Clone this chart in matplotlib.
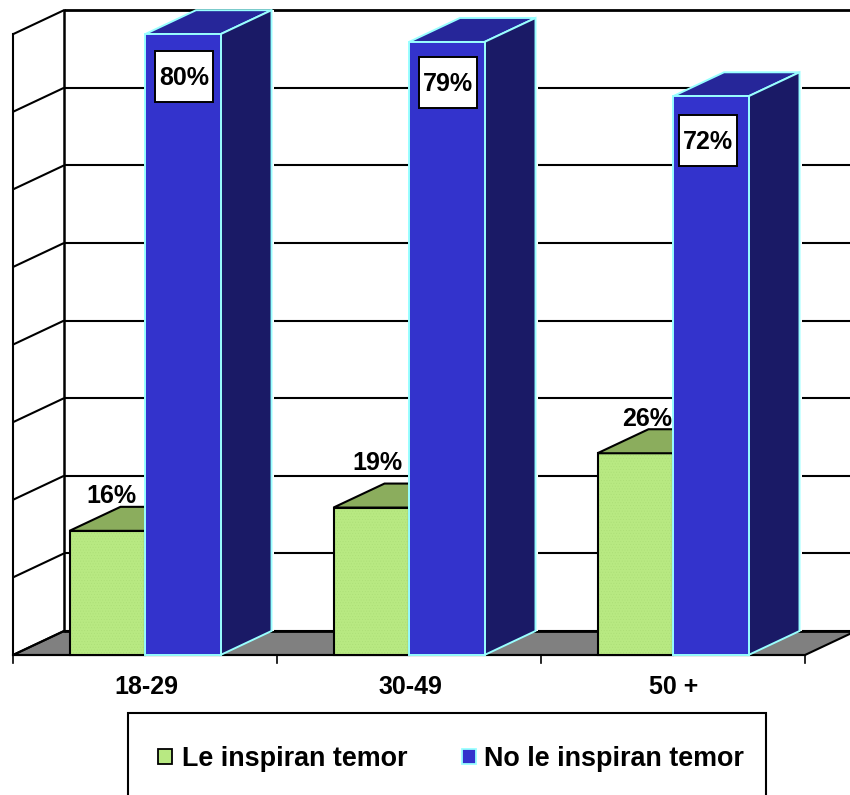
import matplotlib
matplotlib.use("Agg")
import matplotlib.pyplot as plt
from matplotlib.patches import Polygon, Rectangle

categories = ["18-29", "30-49", "50 +"]
series_names = ["Le inspiran temor", "No le inspiran temor"]
le_inspiran = [16, 19, 26]
no_le_inspiran = [80, 79, 72]
gridlines = [0, 10, 20, 30, 40, 50, 60, 70, 80]

W, H = 850, 795
X0, XS = 145.0, 264.0      # px of first category, px per category
Y0, YS = 655.0, 7.76       # px of value 0, px per value unit
DX, DY = 51 / XS, 24 / YS  # 3-D depth in data units
BW = 75.5 / XS             # bar width

# label placement, in px relative to the bar's front-top-left corner
green_lab_dx = [41.5, 44, 49.5]
green_lab_dy = [37.5, 47, 37]
blue_lab_dx = [39, 39, 35]
blue_lab_dy = [42, 40.5, 44.5]
BOX_W, BOX_H = 58, 51

plt.rcParams["font.family"] = ["Liberation Sans", "DejaVu Sans"]
plt.rcParams["font.weight"] = "bold"
plt.rcParams["hatch.linewidth"] = 0.3
fig = plt.figure(figsize=(W / 100, H / 100), dpi=100)
ax = fig.add_axes([0, 0, 1, 1])
ax.set_xlim((0 - X0) / XS, (W - X0) / XS)
ax.set_ylim((Y0 - H) / YS, (Y0 - 0) / YS)
ax.axis("off")

XL = -0.5
XR = len(categories) - 0.5
TOP = max(gridlines)
LW = 1.5
GREEN = "#B8E982"

# floor
ax.add_patch(Polygon([(XL, 0), (XR, 0), (XR + DX, DY), (XL + DX, DY)],
                     closed=True, fc="#808080", ec="black", lw=LW, zorder=1))
# walls
for v in gridlines:
    ax.plot([XL, XL + DX], [v, v + DY], color="black", lw=LW, zorder=2, solid_capstyle="butt")
    ax.plot([XL + DX, XR + DX], [v + DY, v + DY], color="black",
            lw=2.0 if v in (0, TOP) else LW, zorder=2, solid_capstyle="butt")
ax.plot([XL, XL], [0, TOP], color="black", lw=LW, zorder=2)
ax.plot([XL + DX, XL + DX], [DY, TOP + DY], color="black", lw=1.8, zorder=2)
ax.plot([XL, XR], [0, 0], color="black", lw=LW, zorder=2)
# category ticks
for i in range(len(categories) + 1):
    ax.plot([XL + i, XL + i], [0, -8 / YS], color="black", lw=1.2, zorder=2)

xs = list(range(len(categories)))
# green bars: fill with fine dots, then outline on top
g_left = [x - BW for x in xs]
ax.bar(g_left, le_inspiran, width=BW, align="edge", color=GREEN,
       edgecolor="#ABDD76", linewidth=0, hatch="......", zorder=3)
ax.bar(g_left, le_inspiran, width=BW, align="edge", color="none",
       edgecolor="black", linewidth=LW, zorder=3)
for l, v in zip(g_left, le_inspiran):
    ax.add_patch(Polygon([(l, v), (l + BW, v), (l + BW + DX, v + DY), (l + DX, v + DY)],
                         closed=True, fc="#8BAD5D", ec="black", lw=LW, zorder=3))
# white halo behind blue depth, where gridlines stop short of the bar
for x, v in zip(xs, no_le_inspiran):
    ax.add_patch(Rectangle((x + BW + DX, DY), 2.5 / XS, v, fc="white", ec="none", zorder=2.5))
# blue bars
for x, v in zip(xs, no_le_inspiran):
    ax.add_patch(Polygon([(x, v), (x + BW, v), (x + BW + DX, v + DY), (x + DX, v + DY)],
                         closed=True, fc="#262699", ec="#99FFFF", lw=1.4, zorder=4))
    ax.add_patch(Polygon([(x + BW, 0), (x + BW + DX, DY), (x + BW + DX, v + DY), (x + BW, v)],
                         closed=True, fc="#1A1A66", ec="#99FFFF", lw=1.4, zorder=4))
ax.bar(xs, no_le_inspiran, width=BW, align="edge", color="#3333CC",
       edgecolor="#99FFFF", linewidth=1.4, zorder=5)

# data labels
FS = 18
for l, v, dx, dy in zip(g_left, le_inspiran, green_lab_dx, green_lab_dy):
    ax.text(l + dx / XS, v + dy / YS, f"{v}%", ha="center", va="center_baseline", fontsize=FS,
            fontweight="bold", color="black", zorder=6)
for x, v, dx, dy in zip(xs, no_le_inspiran, blue_lab_dx, blue_lab_dy):
    cx, cy = x + dx / XS, v - dy / YS
    ax.add_patch(Rectangle((cx - BOX_W / 2 / XS, cy - BOX_H / 2 / YS), BOX_W / XS, BOX_H / YS,
                           fc="white", ec="black", lw=1.4, zorder=6))
    ax.text(cx, cy + 1 / YS, f"{v}%", ha="center", va="center_baseline", fontsize=FS,
            fontweight="bold", color="black", zorder=7)

# category labels
for x, c in zip(xs, categories):
    ax.text(x + 1 / XS, -30 / YS, c, ha="center", va="center_baseline", fontsize=FS, fontweight="bold")

# legend
def px(xp, yp):
    return (xp - X0) / XS, (Y0 - yp) / YS

lx, ly = px(128, 713)
_, lb = px(128, 810)
lr, _ = px(766, 713)
ax.add_patch(Rectangle((lx, lb), lr - lx, ly - lb, fc="white", ec="black", lw=LW, zorder=8))
colors = [(GREEN, "black"), ("#3333CC", "#99FFFF")]
marks = [158, 461.5]
texts = [181.5, 484.5]
for name, (fc, ec), m, t in zip(series_names, colors, marks, texts):
    a, b = px(m, 763.5)
    c, d = px(m + 14, 749)
    ax.add_patch(Rectangle((a, b), c - a, d - b, fc=fc, ec=ec, lw=1.3, zorder=9))
    tx, ty = px(t, 756)
    ax.text(tx, ty, name, ha="left", va="center_baseline", fontsize=19.4, fontweight="bold", zorder=9)

fig.savefig("out.png", dpi=100)
